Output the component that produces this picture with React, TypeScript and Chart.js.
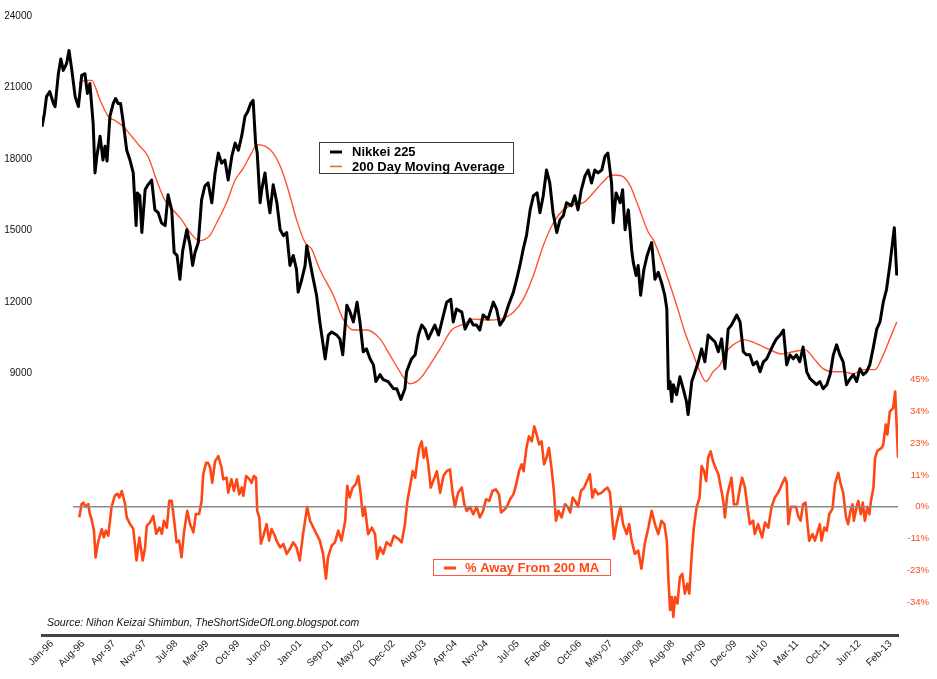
import { useEffect, useRef } from "react";
import { Chart, registerables } from "chart.js";

Chart.register(...registerables);

// x values are months since the start of January 1996
const xTickLabels = [
  "Jan-96", "Aug-96", "Apr-97", "Nov-97", "Jul-98", "Mar-99", "Oct-99", "Jun-00",
  "Jan-01", "Sep-01", "May-02", "Dec-02", "Aug-03", "Apr-04", "Nov-04", "Jul-05",
  "Feb-06", "Oct-06", "May-07", "Jan-08", "Aug-08", "Apr-09", "Dec-09", "Jul-10",
  "Mar-11", "Oct-11", "Jun-12", "Feb-13",
];
const WEEKS_PER_LABEL = 33;
const WEEKS_PER_MONTH = 52.1775 / 12;
const X_MAX_MONTH = 209.2;

const nikkeiTicks = [9000, 12000, 15000, 18000, 21000, 24000];
const pctTicks = [-33.75, -22.5, -11.25, 0, 11.25, 22.5, 33.75, 45];

const nikkei: [number, number][] = [
  [0, 19360], [0.6, 19920], [1.1, 20620], [1.9, 20830], [2.8, 20330], [3.2, 20200], [4, 21580],
  [4.6, 22200], [5.2, 21720], [6, 22000], [6.6, 22550], [7.3, 21720], [8.1, 20620], [8.9, 20200],
  [9.7, 21510], [10.5, 21580], [11.1, 20750], [11.7, 21170], [12.5, 19500], [12.95, 17420],
  [13.4, 18120], [14.2, 18960], [14.9, 17960], [15.4, 18540], [15.9, 17920], [16.6, 19790],
  [17.4, 20330], [18, 20540], [18.6, 20330], [19.2, 20330], [19.8, 19620], [20.7, 18370],
  [21.5, 17960], [22.3, 17420], [23, 15210], [23.3, 16580], [23.9, 16460], [24.4, 14920],
  [25.2, 16710], [25.9, 16920], [26.8, 17120], [27.6, 15870], [28.4, 15750], [29.2, 15330],
  [30.1, 15210], [30.8, 16500], [31.7, 15870], [32.3, 14080], [33, 13960], [33.7, 12960],
  [34.4, 14170], [35.4, 15040], [36.2, 14370], [36.8, 13540], [37.4, 14080], [38.2, 14500],
  [39, 16290], [39.8, 16870], [40.6, 17000], [41.5, 16170], [42.3, 17420], [43.1, 18250],
  [43.9, 17830], [44.7, 17960], [45.5, 17120], [46.4, 18120], [47.2, 18670], [48, 18370],
  [48.8, 18960], [49.6, 19790], [50.3, 20000], [51, 20330], [51.6, 20460], [52.2, 18670],
  [52.6, 18250], [53.3, 16170], [53.7, 16710], [54.5, 17420], [55.1, 16460], [55.7, 15750],
  [56.5, 16920], [57.4, 16170], [58.2, 15040], [59, 14790], [59.8, 14920], [60.6, 13540],
  [61.4, 13960], [62.2, 13370], [62.6, 12420], [63.5, 12960], [64.3, 13540], [64.7, 14370],
  [65.5, 13670], [66.3, 12960], [67.1, 12290], [67.9, 11170], [69.2, 9620], [70, 10620],
  [70.8, 10750], [72, 10620], [72.8, 10460], [73.5, 9790], [74.5, 11870], [75.3, 11580],
  [76.1, 11170], [77, 12000], [77.7, 11170], [78.5, 9920], [79.3, 10040], [80.2, 9620],
  [81, 9370], [81.6, 8670], [82.6, 8960], [83.4, 8750], [84.6, 8670], [85.9, 8370],
  [86.7, 8370], [87.7, 7920], [88.7, 8370], [89.1, 9080], [90.3, 9620], [91.2, 9790],
  [92, 10620], [92.8, 11040], [93.6, 10870], [94.4, 10460], [95.2, 10750], [96, 11040],
  [96.9, 10620], [97.7, 11170], [98.9, 12000], [99.9, 12120], [100.5, 11170], [101.3, 11710],
  [102.6, 11580], [103.4, 10870], [104.6, 11290], [105.4, 11040], [106.2, 11040], [107, 10830],
  [107.8, 11460], [109, 11290], [110.3, 12000], [111.1, 11710], [111.9, 11040], [112.9, 11290],
  [114, 11870], [115.2, 12420], [116, 12960], [116.8, 13540], [117.6, 14220], [118.4, 14790],
  [119.3, 15870], [120.1, 16460], [121, 16580], [121.7, 15750], [122.5, 16460], [123.3, 17540],
  [124.1, 17000], [124.9, 15750], [125.8, 14920], [126.6, 15460], [127.4, 15620], [128.2, 16170],
  [129.4, 16040], [130.2, 16460], [131, 15870], [131.8, 16710], [132.7, 17290], [133.5, 17540],
  [134.3, 17000], [135.1, 17540], [135.9, 17420], [136.8, 17540], [137.6, 18120], [138.3, 18250],
  [139.2, 17000], [139.6, 15330], [140.3, 16580], [141.3, 16170], [141.9, 16710], [142.5, 15040],
  [143.3, 15870], [144.1, 14220], [144.5, 13670], [145.2, 13120], [145.7, 13540], [146.3, 12290],
  [147.1, 13370], [147.9, 13960], [148.4, 14220], [149, 14500], [149.8, 12960], [150.6, 13250],
  [151.4, 12830], [152.2, 12290], [152.7, 11710], [153.1, 8370], [153.5, 8670], [153.9, 7830],
  [154.3, 8540], [155.1, 8120], [155.9, 8870], [156.7, 8370], [157.5, 7830], [157.9, 7290],
  [158.8, 8670], [159.6, 9080], [160.4, 9500], [161.2, 10040], [162, 9500], [162.8, 10620],
  [163.7, 10460], [164.5, 10330], [165.3, 9920], [166.1, 10460], [166.9, 9210], [167.7, 10870],
  [168.5, 11040], [169.8, 11460], [170.6, 11170], [171.4, 9920], [172.2, 9790], [173, 9790],
  [173.8, 9370], [174.7, 9500], [175.5, 9080], [176.3, 9500], [177.1, 9620], [177.9, 9920],
  [178.7, 10210], [179.5, 10460], [180.4, 10620], [181.2, 10830], [182, 9370], [182.8, 9790],
  [183.6, 9620], [184.4, 9790], [185.2, 9500], [186, 10120], [186.9, 9080], [187.7, 8790],
  [188.5, 8670], [189.3, 8540], [190.1, 8670], [190.9, 8370], [191.8, 8540], [192.6, 8960],
  [193.4, 9790], [194.2, 10210], [195, 9790], [195.8, 9500], [196.6, 8540], [197.5, 8790],
  [198.3, 8960], [199.1, 8670], [199.9, 9210], [200.7, 8960], [201.5, 9080], [202.3, 9370],
  [203.1, 10040], [204, 10870], [204.8, 11170], [205.6, 12000], [206.4, 12540], [207.2, 13540],
  [208.3, 15120], [208.9, 13120],
];

const movingAverage: [number, number][] = [
  [9, 21170], [10.5, 21300], [12.1, 21300], [14.2, 20470], [16.2, 19790], [17.8, 19620],
  [19.8, 19370], [21.9, 18960], [23.9, 18540], [25.9, 18120], [28, 17120], [30, 16290],
  [32, 15870], [34.1, 15460], [36.2, 14920], [38.4, 14580], [41, 14790], [42.7, 15330],
  [45.1, 16170], [47.2, 17120], [49.2, 17620], [51.2, 18250], [52.5, 18600], [54.5, 18540],
  [56.5, 18250], [58.6, 17540], [60.6, 16460], [62.2, 15460], [64.3, 14500], [65.9, 14220],
  [67.9, 13370], [71.2, 12290], [73.6, 11290], [76.1, 10830], [79.3, 10830], [82.6, 10460],
  [85, 9790], [87.5, 9080], [89.9, 8580], [92.4, 8790], [94.8, 9370], [97.3, 10040],
  [100.1, 10830], [103, 11080], [105.4, 11290], [108.7, 11250], [111.9, 11290], [115.2, 11580],
  [117.6, 12120], [120.1, 13120], [122.5, 14370], [125, 15330], [127.4, 15870], [129.8, 16080],
  [132.3, 16170], [134.7, 16580], [137.2, 17060], [139.2, 17330], [141.7, 17290], [143.7, 16900],
  [145.7, 16040], [148.2, 14920], [149.4, 14620], [152.2, 13370], [155.1, 11870], [157.1, 10750],
  [159.2, 9790], [160.8, 9080], [162.3, 8670], [164, 9080], [165.7, 9370], [167.3, 9920],
  [168.9, 10210], [171.8, 10420], [174.7, 10250], [177.5, 10040], [180.8, 9830], [183.6, 9920],
  [186.5, 10000], [188.9, 9580], [190.9, 9210], [193.4, 9080], [195.8, 9080], [198.3, 9000],
  [200.7, 9170], [203.6, 9170], [205.6, 9790], [207.2, 10460], [208.9, 11170],
];

const pctAway: [number, number][] = [
  [9.1, -3.7], [9.7, 1.0], [10.1, 1.5], [10.7, 0], [11.3, 1], [11.7, -2.5], [12.1, -4.2],
  [12.7, -8.4], [13.1, -17.8], [13.7, -12.5], [14.6, -7.8], [15.1, -10.8], [15.6, -8.4],
  [16.2, -10.2], [17, 0], [17.8, 3.9], [18.4, 4.6], [18.9, 3.3], [19.5, 5.6], [20.3, 1],
  [20.7, -3.7], [21.5, -6], [22.3, -7.7], [23.1, -18.9], [23.8, -10.8], [24.6, -18.9],
  [25.2, -14.3], [25.6, -6.7], [26.4, -5.5], [27.2, -3.2], [27.9, -9.5], [28.7, -7.3],
  [29.3, -9.5], [29.8, -4.9], [30.5, -7.3], [31.1, 2.1], [31.7, 2.1], [32.3, -4.9],
  [32.9, -12.5], [33.5, -11.9], [34.1, -17.8], [34.7, -9], [35.5, -1.4], [36.2, -6.1],
  [37, -9], [37.6, -2.5], [38.4, -2.5], [39, 2.1], [39.4, 11.5], [40.1, 15.5], [40.6, 15.5],
  [41.1, 13.8], [41.6, 8.5], [42.3, 16.1], [43.1, 17.9], [43.9, 13.8], [44.3, 9.7],
  [45.1, 10.3], [45.5, 5], [46.3, 9.7], [46.9, 5.6], [47.6, 9.7], [48.2, 4.4], [48.8, 6.8],
  [49.2, 3.9], [49.9, 10.9], [50.7, 9.7], [51.2, 8.5], [51.8, 10.9], [52.3, 10.3],
  [52.6, -1.4], [53.1, -3.7], [53.5, -13], [54.1, -10.2], [54.9, -6.1], [55.5, -11.9],
  [56.1, -7.8], [56.9, -10.2], [57.3, -11.9], [58.2, -14.3], [59, -13.1], [59.8, -16.6],
  [60.6, -14.8], [61.4, -12.5], [62.2, -14.3], [63, -18.9], [63.8, -9.6], [64.8, 0],
  [65.5, -4.9], [66.3, -7.3], [67.1, -9.6], [67.9, -11.9], [68.7, -16.6], [69.4, -25.3],
  [69.9, -17.8], [70.8, -13.7], [71.6, -12.5], [72.4, -8.4], [73.2, -11.9], [74.1, -4.9],
  [74.6, 7.4], [75.2, 3.3], [75.9, 6.8], [76.7, 8], [77.3, 10.9], [77.9, 4.4], [78.4, -3.2],
  [78.9, 0], [79.7, -9.6], [80.6, -7.3], [81.4, -9.6], [81.9, -18.3], [82.6, -14.3],
  [83.4, -16.6], [84.2, -12.5], [85.2, -13.7], [86, -10.2], [87.1, -11.3], [87.9, -12.5],
  [88.7, -6.1], [89.3, 2.1], [89.9, 6.8], [90.6, 12.6], [91.2, 10.3], [91.7, 16.1],
  [92.2, 20.8], [92.8, 23.1], [93.3, 17.3], [93.8, 20.8], [94.4, 15], [95, 6.8], [95.6, 9.1],
  [96.5, 12.6], [97.3, 5], [98.1, 10.9], [98.9, 12.6], [99.7, 13.2], [100.4, 4.4], [100.9, 0],
  [101.7, 5], [102.6, 6.8], [103.2, 0.9], [103.8, -1.4], [104.6, 0], [105.4, -2.6], [106.2, 0],
  [107, -3.7], [107.8, -1.4], [108.5, 2.7], [109.3, 2.1], [110.1, 5.6], [110.9, 6.2],
  [111.7, 4.4], [112.2, -2], [112.7, -1.4], [113.6, 0], [114.4, 2.7], [115.2, 4.4],
  [115.8, 7.4], [116.6, 12.6], [117.2, 15], [117.7, 12.6], [118.4, 20.8], [119, 24.9],
  [119.7, 23.1], [120.3, 28.4], [120.9, 25.5], [121.5, 22], [122.1, 23.1], [122.7, 15],
  [123.3, 17.3], [123.9, 20.8], [124.5, 13.8], [125.1, 5.6], [125.6, -4.9], [126.2, -1.4],
  [127, -3.7], [127.8, 0.9], [128.5, 0], [129.1, -2], [129.7, 3.3], [130.3, 2.1], [131, 0],
  [131.7, 5.6], [132.5, 6.8], [133.2, 9.1], [133.9, 11.5], [134.5, 3.3], [135.1, 6.2],
  [135.9, 4.4], [136.8, 5], [137.6, 6.2], [138.2, 6.8], [138.8, 5], [139.2, -1.4],
  [139.8, -11.3], [140.4, -6.1], [141.4, 0], [142, -6.1], [142.9, -9.6], [143.5, -6.1],
  [144.1, -11.9], [144.9, -16.6], [145.7, -15.4], [146.5, -21.8], [147.3, -13.1], [148.2, -7.3],
  [149, -1.4], [149.8, -6.1], [150.6, -9.6], [151.4, -4.9], [152.1, -6.1], [152.7, -11.9],
  [153.1, -25.9], [153.5, -36.4], [153.9, -31.8], [154.3, -38.8], [154.7, -31.8], [155.3, -34.1],
  [155.9, -24.8], [156.5, -23.6], [157.1, -30.6], [157.7, -27.1], [158.2, -30.6], [158.8, -16.6],
  [159.3, -7.3], [160, 0], [160.7, 3.3], [161.2, 14.4], [161.8, 12.6], [162.3, 9.1],
  [162.8, 17.3], [163.4, 19.6], [164, 16.1], [164.6, 13.8], [165.3, 11.5], [165.9, 6.8],
  [166.5, 2.1], [166.9, -3.7], [167.5, 4.4], [168.1, 8], [168.5, 10.3], [169.1, 0.9],
  [169.9, 0.9], [170.6, 6.8], [171.1, 10.3], [171.8, 6.8], [172.4, 0], [173, -6.1],
  [173.8, -4.9], [174.2, -9.6], [175, -6.1], [176, -10.8], [176.7, -5.5], [177.5, -7.3],
  [178.3, 0], [179.1, 3.3], [179.9, 5], [180.5, 6.8], [181, 8.5], [181.6, 10.3], [182, 8.5],
  [182.4, -6.1], [183, 0], [183.6, 0], [184.3, 0], [184.8, -3.2], [185.4, -4.9], [186, 0.9],
  [186.6, 1.5], [187, -4.9], [187.5, -11.9], [188.3, -9.6], [188.9, -11.9], [189.4, -9.6],
  [190.1, -6.1], [190.5, -11.9], [191.2, -7.3], [191.8, -8.4], [192.4, -2.6], [193.2, -0.6],
  [193.8, 8], [194.6, 12], [195.2, 8], [195.8, 5], [196.5, -3.7], [197, -6.1], [197.6, -1.4],
  [198.1, 0.9], [198.4, -4.9], [199.1, 0], [199.5, 2.1], [200.1, -2.6], [200.6, 1.5],
  [201.1, -4.9], [201.7, 0], [202.2, -2.6], [202.6, 2.1], [203.2, 6.8], [203.6, 17.3],
  [204.1, 19.6], [204.6, 20.2], [205.2, 20.8], [205.6, 22], [206.2, 29], [206.6, 25.5],
  [207.2, 33.6], [207.6, 34.2], [208, 34.8], [208.5, 40.7], [208.9, 27.8], [209.2, 17.3],
];

const zeroLine: [number, number][] = [[7.6, 0], [209.2, 0]];

const legendTop = ["Nikkei 225", "200 Day Moving Average"];
const legendBottom = "% Away From 200 MA";
const sourceText = "Source: Nihon Keizai Shimbun, TheShortSideOfLong.blogspot.com";

const BLACK = "#000000";
const MA_RED = "#ff5230";
const PCT_RED = "#ff4716";
const FONT = "'Liberation Sans', Arial, sans-serif";

const toXY = (arr: [number, number][]) => arr.map(([x, y]) => ({ x, y }));

const overlayPlugin = {
  id: "overlay",
  afterDraw(chart: any) {
    const ctx = chart.ctx as CanvasRenderingContext2D;
    ctx.save();
    // top legend
    ctx.strokeStyle = "#3c3c3c";
    ctx.lineWidth = 1;
    ctx.strokeRect(319.5, 142.5, 194, 31);
    ctx.lineCap = "butt";
    ctx.strokeStyle = BLACK;
    ctx.lineWidth = 3;
    ctx.beginPath();
    ctx.moveTo(330, 152);
    ctx.lineTo(342, 152);
    ctx.stroke();
    ctx.strokeStyle = MA_RED;
    ctx.lineWidth = 1.5;
    ctx.beginPath();
    ctx.moveTo(330, 166.5);
    ctx.lineTo(342, 166.5);
    ctx.stroke();
    ctx.fillStyle = "#000";
    ctx.font = `bold 13px ${FONT}`;
    ctx.textBaseline = "middle";
    ctx.textAlign = "left";
    ctx.fillText(legendTop[0], 352, 152);
    ctx.fillText(legendTop[1], 352, 167);

    // bottom legend
    ctx.strokeStyle = "#ff5a3c";
    ctx.lineWidth = 1;
    ctx.strokeRect(433.5, 559.5, 177, 16);
    ctx.strokeStyle = PCT_RED;
    ctx.lineWidth = 3;
    ctx.beginPath();
    ctx.moveTo(444, 568);
    ctx.lineTo(456, 568);
    ctx.stroke();
    ctx.fillStyle = PCT_RED;
    ctx.font = `bold 13px ${FONT}`;
    ctx.fillText(legendBottom, 465, 568);

    // source
    ctx.fillStyle = "#111";
    ctx.font = `italic 10.5px ${FONT}`;
    ctx.fillText(sourceText, 47, 623);
    ctx.restore();
  },
};

export default function App() {
  const canvasRef = useRef<HTMLCanvasElement | null>(null);

  useEffect(() => {
    if (!canvasRef.current) return;
    const tickStep = WEEKS_PER_LABEL / WEEKS_PER_MONTH;
    const chart = new Chart(canvasRef.current, {
      type: "line",
      data: {
        datasets: [
          {
            label: "zero",
            data: toXY(zeroLine),
            yAxisID: "yR",
            borderColor: "#8a8a8a",
            borderWidth: 1.5,
            pointRadius: 0,
          },
          {
            label: "% Away From 200 MA",
            data: toXY(pctAway),
            yAxisID: "yR",
            borderColor: PCT_RED,
            borderWidth: 2.6,
            pointRadius: 0,
            borderJoinStyle: "round",
          },
          {
            label: "Nikkei 225",
            data: toXY(nikkei),
            yAxisID: "yL",
            borderColor: BLACK,
            borderWidth: 3,
            pointRadius: 0,
            borderJoinStyle: "round",
          },
          {
            label: "200 Day Moving Average",
            data: toXY(movingAverage),
            yAxisID: "yL",
            borderColor: MA_RED,
            borderWidth: 1.4,
            pointRadius: 0,
            cubicInterpolationMode: "monotone",
          },
        ],
      },
      options: {
        responsive: false,
        animation: false,
        devicePixelRatio: 1,
        layout: { padding: { top: 12, left: 0, right: 8, bottom: 0 } },
        plugins: { legend: { display: false }, tooltip: { enabled: false } },
        elements: { line: { tension: 0 } },
        scales: {
          x: {
            type: "linear",
            min: 0,
            max: X_MAX_MONTH,
            grid: { display: false, drawTicks: false },
            border: { display: true, color: "#444444", width: 3 },
            afterBuildTicks: (s: any) => {
              s.ticks = xTickLabels.map((_, k) => ({ value: k * tickStep }));
            },
            afterFit: (s: any) => {
              s.height = 44;
            },
            ticks: {
              autoSkip: false,
              minRotation: 45,
              maxRotation: 45,
              labelOffset: 10,
              padding: 3,
              color: "#222",
              font: { family: FONT, size: 10 },
              callback: (_v: any, i: number) => xTickLabels[i],
            },
          },
          yL: {
            type: "linear",
            position: "left",
            min: -1958,
            max: 24000,
            grid: { display: false, drawTicks: false },
            border: { display: false },
            afterBuildTicks: (s: any) => {
              s.ticks = nikkeiTicks.map((v) => ({ value: v }));
            },
            afterFit: (s: any) => {
              s.width = 42;
            },
            ticks: {
              padding: 10,
              color: "#111",
              font: { family: FONT, size: 10 },
              callback: (v: any) => String(v),
            },
          },
          yR: {
            type: "linear",
            position: "right",
            min: -45.2,
            max: 173.15,
            grid: { display: false, drawTicks: false },
            border: { display: false },
            afterBuildTicks: (s: any) => {
              s.ticks = pctTicks.map((v) => ({ value: v }));
            },
            afterFit: (s: any) => {
              s.width = 31;
            },
            ticks: {
              crossAlign: "far",
              padding: 1,
              color: "#ff4a22",
              font: { family: FONT, size: 9.5 },
              callback: (v: any) => `${Math.sign(v) * Math.round(Math.abs(v))}%`,
            },
          },
        },
      },
      plugins: [overlayPlugin],
    } as any);
    return () => chart.destroy();
  }, []);

  return (
    <div style={{ position: "absolute", left: 0, top: 0, width: 937, height: 679, background: "#fff" }}>
      <canvas ref={canvasRef} width={937} height={679} style={{ display: "block" }} />
    </div>
  );
}
